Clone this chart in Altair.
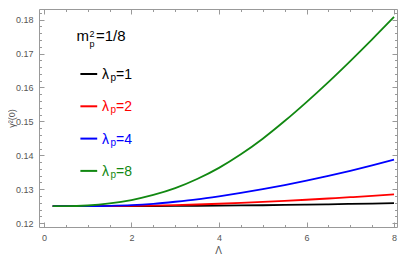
import altair as alt
import pandas as pd

# ---- data ----
LAMBDA = [0.2, 0.5, 1.0, 1.5, 2.0, 2.5, 3.0, 3.5, 4.0, 4.5, 5.0, 5.5, 6.0, 6.5, 7.0, 7.5, 8.0]
GAMMA_LP1 = [0.12500, 0.12500, 0.12500, 0.12500, 0.12501, 0.12503, 0.12506, 0.12510, 0.12515,
             0.12521, 0.12528, 0.12536, 0.12545, 0.12555, 0.12566, 0.12578, 0.12590]
GAMMA_LP2 = [0.12500, 0.12500, 0.12500, 0.12502, 0.12508, 0.12518, 0.12532, 0.12550, 0.12572,
             0.12597, 0.12625, 0.12656, 0.12690, 0.12726, 0.12764, 0.12805, 0.12850]
GAMMA_LP4 = [0.1250, 0.1250, 0.1250, 0.1251, 0.1253, 0.1257, 0.1263, 0.1270, 0.1279,
             0.1289, 0.1300, 0.1312, 0.1325, 0.1339, 0.1354, 0.1370, 0.1387]
GAMMA_LP8 = [0.1250, 0.1250, 0.1252, 0.1258, 0.1268, 0.1283, 0.1303, 0.1330, 0.1363,
             0.1403, 0.1449, 0.1501, 0.1557, 0.1616, 0.1678, 0.1742, 0.1808]
SERIES = ["1", "2", "4", "8"]
COLORS = ["#000000", "#ff0000", "#0000ff", "#118811"]
X_TICKS = [0, 0.5, 1, 1.5, 2, 2.5, 3, 3.5, 4, 4.5, 5, 5.5, 6, 6.5, 7, 7.5, 8]
Y_TICKS = [0.12, 0.122, 0.124, 0.126, 0.128, 0.13, 0.132, 0.134, 0.136, 0.138,
           0.14, 0.142, 0.144, 0.146, 0.148, 0.15, 0.152, 0.154, 0.156, 0.158,
           0.16, 0.162, 0.164, 0.166, 0.168, 0.17, 0.172, 0.174, 0.176, 0.178,
           0.18, 0.182]

rows = []
for lp, ys in zip(SERIES, [GAMMA_LP1, GAMMA_LP2, GAMMA_LP4, GAMMA_LP8]):
    for L, g in zip(LAMBDA, ys):
        rows.append({"L": L, "g": g, "lp": lp})
df = pd.DataFrame(rows)

FRAME = "#999999"
LABEL = "#555555"
FONT = "Liberation Sans"
W, H = 358, 218

xscale = alt.Scale(domain=[-0.113, 8.068], nice=False, zero=False)
yscale = alt.Scale(domain=[0.11886, 0.18314], nice=False, zero=False)
cscale = alt.Scale(domain=SERIES, range=COLORS)

X_MAJOR = "datum.value % 2 == 0"
Y_MAJOR = "abs(datum.value * 100 - round(datum.value * 100)) < 1e-6"
x_ts = {"condition": {"test": X_MAJOR, "value": -5}, "value": -2.5}
y_ts = {"condition": {"test": Y_MAJOR, "value": -5}, "value": -2.5}

common = dict(domain=False, grid=False, tickColor=FRAME, tickWidth=1,
              labelColor=LABEL, labelFont=FONT, labelFontSize=9,
              labelOverlap=False, labelFlush=False,
              titleColor=LABEL, titleFont=FONT, titleFontWeight="normal")

x_bottom = alt.Axis(orient="bottom", values=X_TICKS, tickSize=x_ts,
                    labelExpr="datum.value % 2 == 0 ? format(datum.value, 'd') : ''",
                    labelPadding=11, title="Λ", titleFontSize=10, titlePadding=1, **common)
y_left = alt.Axis(orient="left", values=Y_TICKS, tickSize=y_ts,
                  labelExpr=Y_MAJOR + " ? format(datum.value, '.2f') : ''",
                  labelPadding=11, title="γ²(0)", titleFontSize=9,
                  titleX=-25, titleY=H / 2, titleAngle=-90, titleBaseline="alphabetic",
                  titleAlign="center", **common)
x_top = alt.Axis(orient="top", values=X_TICKS, tickSize=x_ts, labels=False, title=None,
                 domain=False, grid=False, tickColor=FRAME)
y_right = alt.Axis(orient="right", values=Y_TICKS, tickSize=y_ts, labels=False, title=None,
                   domain=False, grid=False, tickColor=FRAME)

lines = alt.Chart(df).mark_line(strokeWidth=1.8, interpolate="monotone").encode(
    x=alt.X("L:Q", scale=xscale, axis=x_bottom),
    y=alt.Y("g:Q", scale=yscale, axis=y_left),
    color=alt.Color("lp:N", scale=cscale, legend=None),
    detail="lp:N",
)
ghost = alt.Chart(df).mark_line(strokeOpacity=0).encode(
    x=alt.X("L:Q", scale=xscale, axis=x_top),
    y=alt.Y("g:Q", scale=yscale, axis=y_right),
    detail="lp:N",
)

one = pd.DataFrame({"k": [0]})


def txt(s, x, y, size=14, color="black"):
    return alt.Chart(one).mark_text(text=s, align="left", baseline="alphabetic",
                                    fontSize=size, font=FONT, color=color).encode(
        x=alt.value(x), y=alt.value(y))


annots = [
    txt("m", 37.5, 32.0, 15),
    txt("2", 50.5, 28.0, 9),
    txt("p", 50.5, 37.5, 9),
    txt("=1/8", 57.0, 32.0, 15),
]
LINE_Y = [65.0, 97.3, 129.6, 161.9]
for lp, col, ly in zip(SERIES, COLORS, LINE_Y):
    annots.append(alt.Chart(one).mark_rule(color=col, strokeWidth=2).encode(
        x=alt.value(41.4), x2=alt.value(58.2), y=alt.value(ly)))
    annots.append(txt("λ", 63.1, ly + 5, 14, col))
    annots.append(txt("p", 71.5, ly + 7, 10, col))
    annots.append(txt("=" + lp, 77.0, ly + 5, 14, col))

chart = alt.layer(lines, ghost, *annots).properties(
    width=W, height=H,
    autosize=alt.AutoSizeParams(type="none"),
    padding={"left": 31, "top": 1, "right": 2, "bottom": 31},
).configure_view(stroke=FRAME, strokeWidth=1)

chart.save("out.html", embed_options={"renderer": "svg", "actions": False})
